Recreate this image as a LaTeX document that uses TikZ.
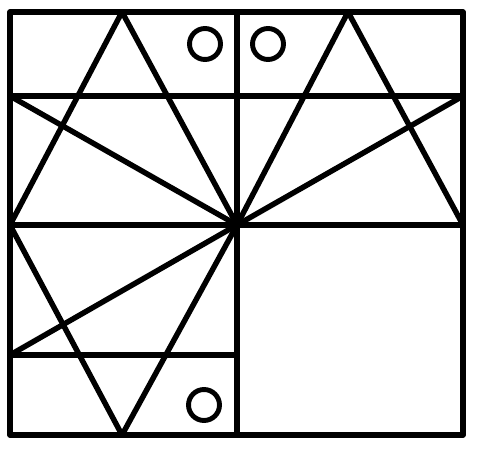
\documentclass[tikz,border=0pt]{standalone}
\usetikzlibrary{positioning}
\usepackage{xcolor}

\begin{document}
\begin{tikzpicture}[x=0.02cm,y=-0.02cm]

            % BOUNDING BOX
            \useasboundingbox (0,0) rectangle (480,456);

            % DEF COORDINATES
            \coordinate (tl) at (10,12);
            \coordinate (tr) at (463,12);
            \coordinate (bl) at (10,435);
            \coordinate (br) at (463,435);
            \coordinate (tm) at (237,12);
            \coordinate (bm) at (237,435);
            \coordinate (c) at (237,225);
            \coordinate (l1) at (10,96);
            \coordinate (r1) at (463,96);
            \coordinate (l2) at (10,225);
            \coordinate (r2) at (463,225);
            \coordinate (l3) at (10,355);
            \coordinate (m3) at (237,355);
            \coordinate (apexA) at (122,12);
            \coordinate (apexB) at (348,12);
            \coordinate (apexC) at (122,435);

            % EDGESTYLE
            \tikzstyle{edgestyle} = [line width=3.1pt,color=black,line cap=round,line join=round]
            \tikzstyle{ringstyle} = [circle, draw=black, line width=2.8pt, minimum size=0.62cm, inner sep=0pt]

            % FRAME
            \draw[edgestyle] (tl) -- (tr) -- (br) -- (bl) -- cycle;

            % GRID LINES
            \foreach \i/\k in {tm/bm,l1/r1,l2/r2,l3/m3} {
              \draw[edgestyle] (\i) -- (\k);
            }

            % TRIANGLES
            \draw[edgestyle] (l2) -- (apexA) -- (c);
            \draw[edgestyle] (c) -- (apexB) -- (r2);
            \draw[edgestyle] (l2) -- (apexC) -- (c);

            % RAYS
            \foreach \k in {l1,r1,l3} {
              \draw[edgestyle] (c) -- (\k);
            }

            % RINGS
            \node[ringstyle] (ring1) at (205,44) {};
            \node[ringstyle] (ring2) at (268,44) {};
            \node[ringstyle] (ring3) at (204,405) {};

\end{tikzpicture}
\end{document}
